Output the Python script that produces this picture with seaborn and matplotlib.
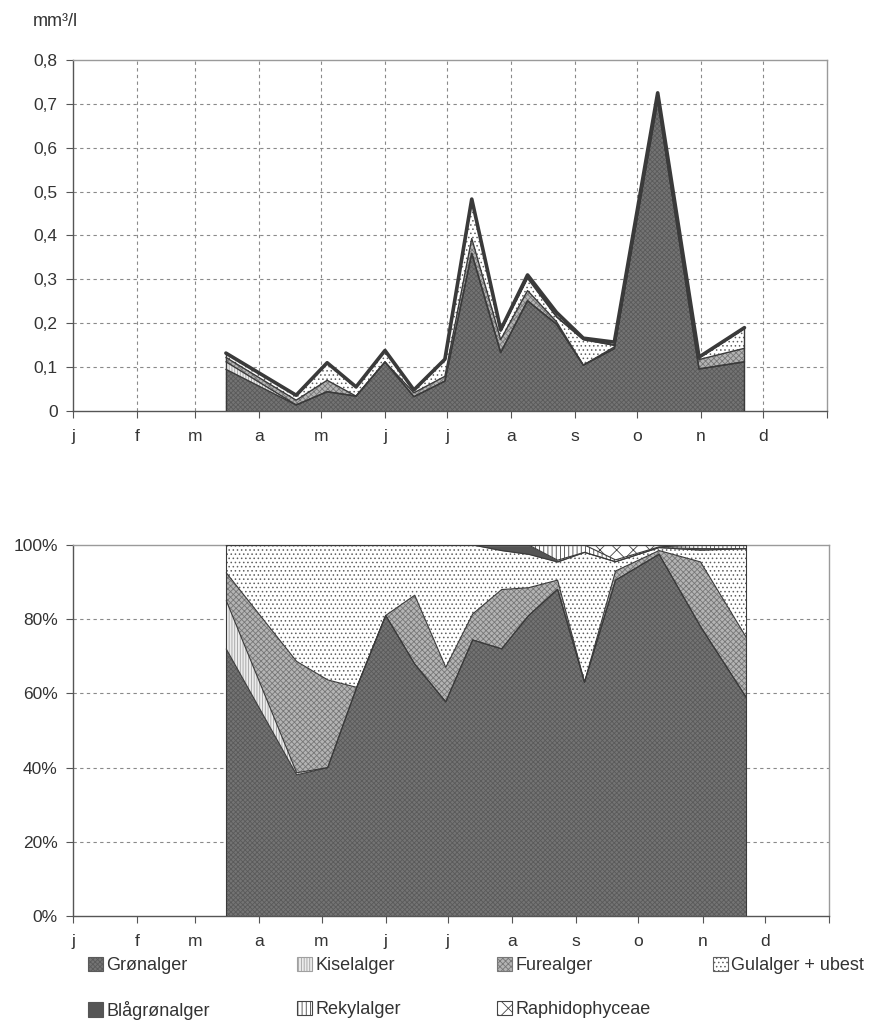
import numpy as np
import pandas as pd
import matplotlib.pyplot as plt
import seaborn as sns
from matplotlib.patches import Patch

plt.switch_backend('Agg')

# Sampling dates (day of year) and biovolume per group (mm3/l)
sample_day = [74, 108, 123, 137, 151, 165, 180, 193, 207, 220, 234, 247, 262, 283, 303, 325]

gronalger = [0.095, 0.0137, 0.044, 0.0339, 0.1118, 0.0326, 0.0681, 0.3594,
             0.1332, 0.2511, 0.198, 0.1046, 0.1421, 0.7069, 0.0959, 0.1121]
kiselalger = [0.0172, 0.0002, 0, 0, 0, 0, 0, 0, 0, 0, 0, 0, 0, 0, 0, 0]
furealger = [0.0099, 0.0108, 0.026, 0, 0, 0.0089, 0.011, 0.0338,
             0.0296, 0.0233, 0.0056, 0, 0.0039, 0.0073, 0.0214, 0.0308]
gulalger = [0.0099, 0.0113, 0.04, 0.0211, 0.0262, 0.0065, 0.0389, 0.0898,
            0.0194, 0.0279, 0.011, 0.0581, 0.0039, 0.0058, 0.0039, 0.0452]
blagronalger = [0, 0, 0, 0, 0, 0, 0, 0, 0.0028, 0.0078, 0.0011, 0, 0, 0, 0.0005, 0]
rekylalger = [0, 0, 0, 0, 0, 0, 0, 0, 0, 0, 0.0092, 0.0033, 0.0008, 0.0015, 0.0012, 0.0019]
raphidophyceae = [0, 0, 0, 0, 0, 0, 0, 0, 0, 0, 0, 0, 0.0063, 0.0036, 0, 0]

series_names = ["Grønalger", "Kiselalger", "Furealger", "Gulalger + ubest",
                "Blågrønalger", "Rekylalger", "Raphidophyceae"]
month_labels = ["j", "f", "m", "a", "m", "j", "j", "a", "s", "o", "n", "d"]
month_start = [0, 31, 59, 90, 120, 151, 181, 212, 243, 273, 304, 334, 365]

df = pd.DataFrame({
    "Grønalger": gronalger, "Kiselalger": kiselalger, "Furealger": furealger,
    "Gulalger + ubest": gulalger, "Blågrønalger": blagronalger,
    "Rekylalger": rekylalger, "Raphidophyceae": raphidophyceae,
}, index=sample_day)

# fill styles (scanned b/w patterns)
styles = {
    "Grønalger": dict(facecolor="#747474", hatch="xxxxxxx", edgecolor="#5a5a5a"),
    "Kiselalger": dict(facecolor="#ececec", hatch="||||||", edgecolor="#a0a0a0"),
    "Furealger": dict(facecolor="#b4b4b4", hatch="xxxxxx", edgecolor="#777777"),
    "Gulalger + ubest": dict(facecolor="white", hatch="....", edgecolor="#606060"),
    "Blågrønalger": dict(facecolor="#555555", hatch=None, edgecolor="#555555"),
    "Rekylalger": dict(facecolor="white", hatch="||||", edgecolor="#444444"),
    "Raphidophyceae": dict(facecolor="white", hatch="xx", edgecolor="#444444"),
}

sns.set_style("ticks")
plt.rcParams["font.family"] = ["Liberation Sans", "DejaVu Sans"]
plt.rcParams["hatch.linewidth"] = 0.6
text_col = "#333333"
grid_col = "#8a8a8a"

fig = plt.figure(figsize=(8.83, 10.25), dpi=100)
ax1 = fig.add_axes([0.0827, 0.599, 0.854, 0.3425])
ax2 = fig.add_axes([0.0827, 0.1063, 0.856, 0.362])


def draw_stack(ax, data, edge_lw, top_lw):
    x = data.index.values
    base = np.zeros(len(x))
    for name in series_names:
        top = base + data[name].values
        st = styles[name]
        ax.fill_between(x, base, top, facecolor=st["facecolor"], hatch=st["hatch"],
                        edgecolor=st["edgecolor"], linewidth=0, zorder=2)
        base = top
    # outlines of every layer
    base = np.zeros(len(x))
    for i, name in enumerate(series_names):
        base = base + data[name].values
        lw = top_lw if i == len(series_names) - 1 else edge_lw
        sns.lineplot(x=x, y=base, ax=ax, color="#3a3a3a", linewidth=lw, zorder=3)
    ax.vlines([x[0], x[-1]], 0, [base[0], base[-1]], color="#3a3a3a", linewidth=edge_lw, zorder=3)


def style_axis(ax):
    ax.set_xlim(0, 365)
    ax.set_xticks(month_start)
    ax.set_xticklabels(month_labels + [""])
    ax.tick_params(axis="both", direction="out", length=5, color="#555555",
                   labelsize=12.5, labelcolor=text_col)
    ax.tick_params(axis="x", pad=8)
    ax.tick_params(axis="y", pad=6)
    for side in ["left", "bottom"]:
        ax.spines[side].set_color("#555555")
        ax.spines[side].set_linewidth(1)
    for side in ["top", "right"]:
        ax.spines[side].set_color("#9a9a9a")
        ax.spines[side].set_linewidth(1)
    ax.set_xlabel("")
    ax.set_ylabel("")


# top panel: absolute biovolume
draw_stack(ax1, df, 1.0, 2.6)
style_axis(ax1)
ax1.set_ylim(0, 0.8)
yt = np.arange(0, 0.81, 0.1)
ax1.set_yticks(yt)
ax1.set_yticklabels(["0"] + [f"{v:.1f}".replace(".", ",") for v in yt[1:]])
for v in yt[1:-1]:
    ax1.axhline(v, color=grid_col, linewidth=0.8, linestyle=(0, (3, 3)), zorder=1)
for d in month_start[1:-1]:
    ax1.axvline(d, color=grid_col, linewidth=0.8, linestyle=(0, (3, 3)), zorder=1)
fig.text(33 / 883, 1 - 22 / 1025, "mm³/l", fontsize=13, color=text_col, ha="left", va="center")

# bottom panel: percent composition
pct = df.div(df.sum(axis=1), axis=0) * 100
draw_stack(ax2, pct, 0.8, 0.8)
style_axis(ax2)
ax2.set_ylim(0, 100)
ax2.set_yticks(range(0, 101, 20))
ax2.set_yticklabels([f"{v}%" for v in range(0, 101, 20)])
for v in range(20, 100, 20):
    ax2.axhline(v, color=grid_col, linewidth=0.8, linestyle=(0, (3, 3)), zorder=1)

# legend, laid out as in the original (4 columns, 2 rows)
handles = {n: Patch(facecolor=styles[n]["facecolor"], hatch=styles[n]["hatch"],
                    edgecolor=styles[n]["edgecolor"], linewidth=0.8) for n in series_names}
columns = [(88, ["Grønalger", "Blågrønalger"]), (297, ["Kiselalger", "Rekylalger"]),
           (497, ["Furealger", "Raphidophyceae"]), (713, ["Gulalger + ubest"])]
for xpos, names in columns:
    fig.legend([handles[n] for n in names], names, loc="upper left",
               bbox_to_anchor=(xpos / 883, 1 - 957 / 1025), frameon=False,
               fontsize=13, handlelength=0.85, handleheight=0.85, handletextpad=0.15,
               labelspacing=1.45, borderpad=0, borderaxespad=0, labelcolor=text_col)

plt.savefig("out.png", dpi=100)
plt.close()
